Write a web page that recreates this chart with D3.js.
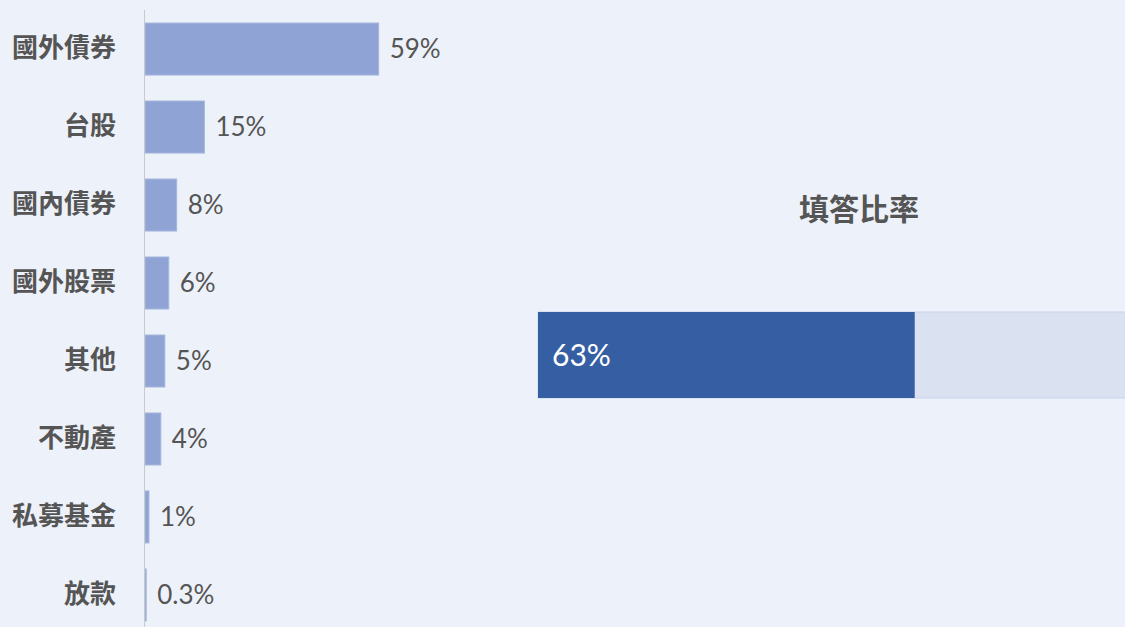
<!DOCTYPE html>
<html>
<head>
<meta charset="utf-8">
<script src="https://cdn.jsdelivr.net/npm/d3@7"></script>
<style>
  html, body { margin: 0; padding: 0; background: #edf1f9; }
  svg { display: block; }
</style>
</head>
<body>
<div id="chart"></div>
<script>
// allocation categories and shares (%)
let categories = ["國外債券", "台股", "國內債券", "國外股票", "其他", "不動產", "私募基金", "放款"];
let shares = [59, 15, 8, 6, 5, 4, 1, 0.3];
let shareLabels = ["59%", "15%", "8%", "6%", "5%", "4%", "1%", "0.3%"];

// response rate
let rateTitle = "填答比率";
let rateValue = [63];
let rateLabel = ["63%"];

const W = 1125, H = 627;
const TEXT = "#555555";

let svg = d3.select("#chart").append("svg")
    .attr("width", W)
    .attr("height", H);

svg.append("rect").attr("width", W).attr("height", H).attr("fill", "#edf1f9");

// --- left: horizontal bars ---
let x = d3.scaleLinear()
    .domain([0, 100])
    .range([145, 145 + 396]);

let y = d3.scaleBand()
    .domain(categories)
    .range([10, 10 + 78 * categories.length])
    .paddingInner(0.333)
    .paddingOuter(0.167);

let left = svg.append("g");

left.selectAll("rect.bar")
  .data(categories)
  .enter()
  .append("rect")
  .classed("bar", true)
  .attr("x", x(0))
  .attr("y", d => y(d))
  .attr("width", (d, i) => Math.max(x(shares[i]) - x(0), 1))
  .attr("height", y.bandwidth())
  .attr("fill", "#8fa4d4")
  .attr("stroke", "#a6b7de")
  .attr("stroke-width", 1);

// category axis
let yAxis = d3.axisLeft(y).tickSize(0).tickPadding(28);
left.append("g")
  .attr("transform", "translate(144,0)")
  .call(yAxis)
  .call(g => g.select(".domain").remove())
  .call(g => g.selectAll("text")
    .attr("fill", TEXT)
    .style("font-family", "'Noto Sans CJK TC', sans-serif")
    .style("font-weight", "700")
    .style("font-size", "26px"));

left.append("line")
  .attr("x1", 144.5).attr("x2", 144.5)
  .attr("y1", 10).attr("y2", H)
  .attr("stroke", "#c9c9cc")
  .attr("stroke-width", 1);

left.selectAll("text.val")
  .data(categories)
  .enter()
  .append("text")
  .classed("val", true)
  .attr("x", (d, i) => x(shares[i]) + 11)
  .attr("y", d => y(d) + y.bandwidth() / 2)
  .attr("dy", "0.36em")
  .attr("fill", TEXT)
  .style("font-family", "Lato, sans-serif")
  .style("font-size", "26px")
  .text((d, i) => shareLabels[i]);

// --- right: response rate bar ---
let xr = d3.scaleLinear()
    .domain([0, 100])
    .range([538, 538 + 598]);

let right = svg.append("g");

right.append("text")
  .attr("x", 859)
  .attr("y", 209)
  .attr("dy", "0.36em")
  .attr("text-anchor", "middle")
  .attr("fill", TEXT)
  .style("font-family", "'Noto Sans CJK TC', sans-serif")
  .style("font-weight", "700")
  .style("font-size", "30px")
  .text(rateTitle);

right.append("rect")
  .attr("x", xr(0))
  .attr("y", 312)
  .attr("width", xr(100) - xr(0))
  .attr("height", 86)
  .attr("fill", "#dae2f2")
  .attr("stroke", "#c9d3ea");

right.selectAll("rect.rate")
  .data(rateValue)
  .enter()
  .append("rect")
  .classed("rate", true)
  .attr("x", xr(0))
  .attr("y", 312)
  .attr("width", d => xr(d) - xr(0))
  .attr("height", 86)
  .attr("fill", "#365fa3");

right.selectAll("text.rate")
  .data(rateLabel)
  .enter()
  .append("text")
  .classed("rate", true)
  .attr("x", xr(0) + 14)
  .attr("y", 355)
  .attr("dy", "0.36em")
  .attr("fill", "#ffffff")
  .style("font-family", "Lato, sans-serif")
  .style("font-size", "30px")
  .text(d => d);
</script>
</body>
</html>
